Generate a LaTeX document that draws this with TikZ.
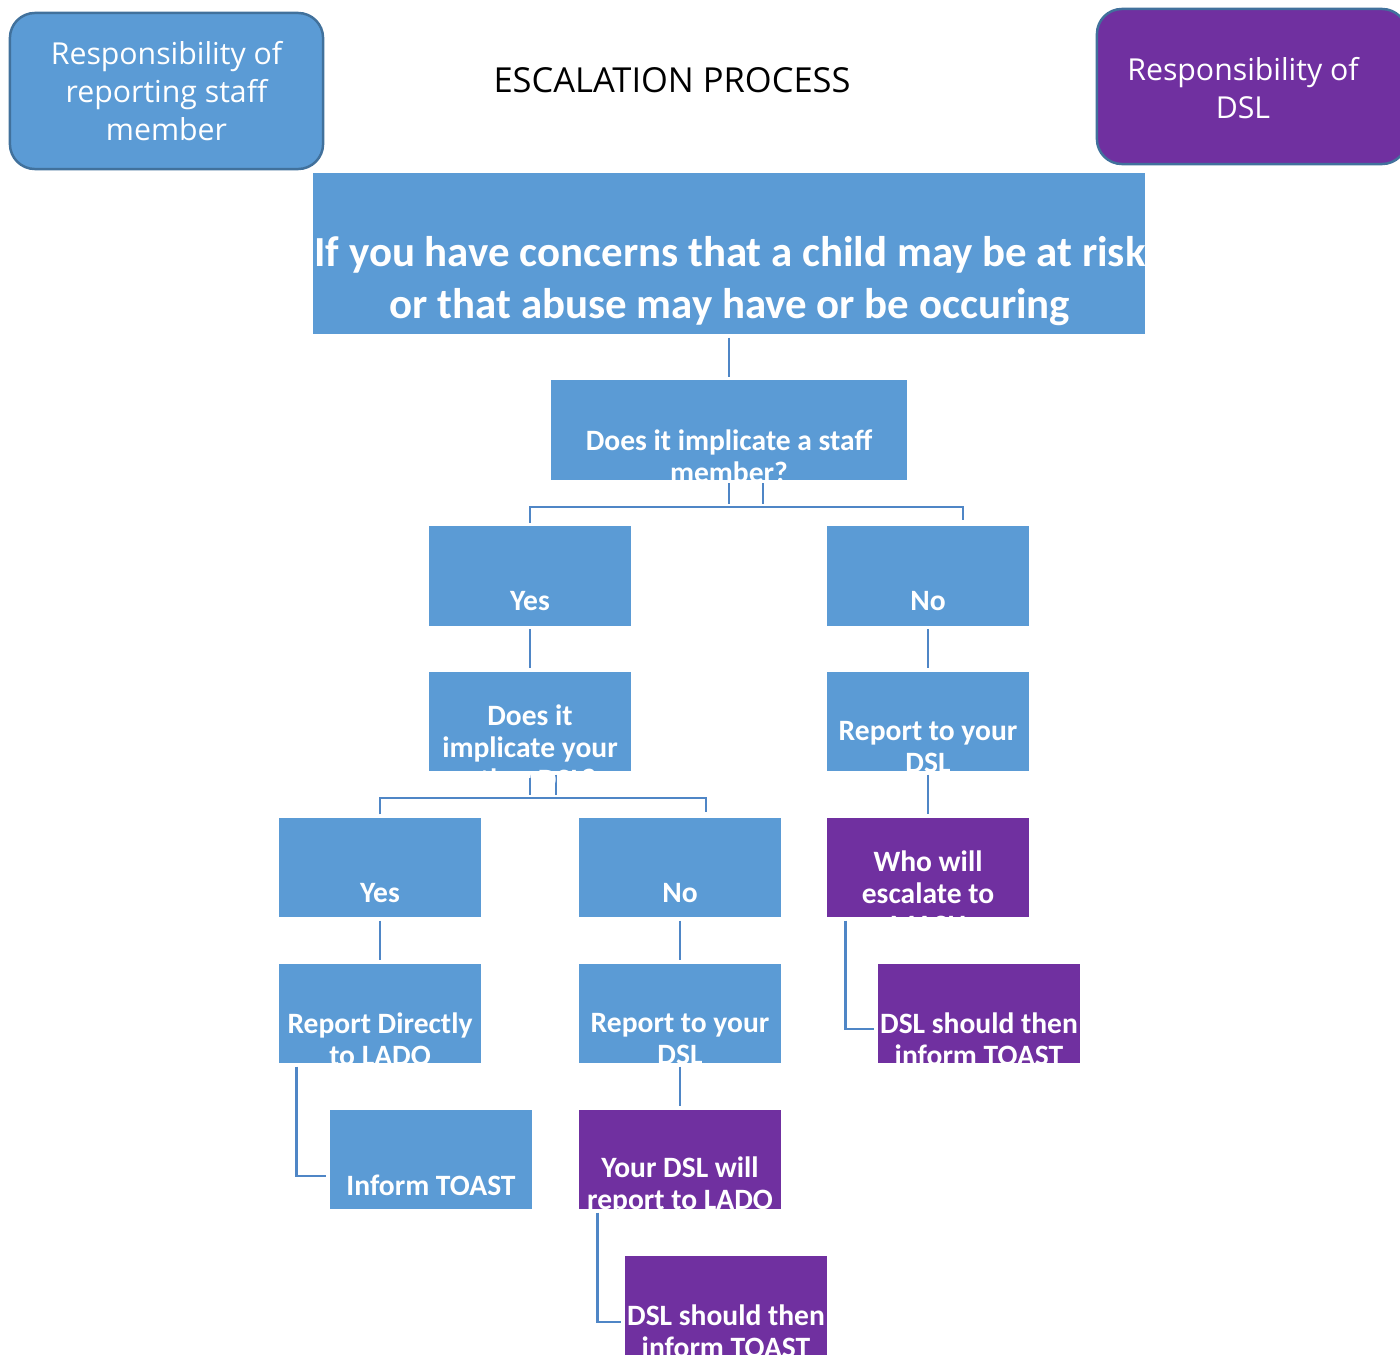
\documentclass[tikz,border=0pt]{standalone}
\usepackage{fontspec}
\setmainfont{Carlito}
\newfontfamily\headfont{Open Sans}
\definecolor{boxblue}{HTML}{5B9BD5}
\definecolor{dslpurple}{HTML}{7030A0}
\definecolor{keyedge}{HTML}{41719C}
\definecolor{linkblue}{HTML}{4F86C6}
\tikzset{
  box/.style={rectangle, inner sep=0pt, minimum width=2.02cm, minimum height=0.99cm},
  bluebox/.style={box, fill=boxblue},
  dslbox/.style={box, fill=dslpurple},
  boxtext/.style={text=white, font=\fontsize{8.4}{9.1}\selectfont\bfseries, align=center, inner sep=0pt},
  keybox/.style={rectangle, rounded corners=0.25cm, draw=keyedge, line width=0.7pt, minimum width=3.13cm, minimum height=1.56cm},
  keytext/.style={text=white, font=\headfont\fontsize{8.6}{10.8}\selectfont, align=center, inner sep=0pt},
  link/.style={draw=linkblue, line width=0.8pt, shorten <=0.8pt, shorten >=0.8pt}
}
\begin{document}
\begin{tikzpicture}[x=0.01cm, y=-0.01cm]
\useasboundingbox (0,0) rectangle (1400,1355);
\node[keybox, fill=boxblue] (keystaff) at (166.5,91) {};
\node[keybox, fill=dslpurple, minimum width=3.1cm, minimum height=1.55cm] (keydsl) at (1252,86.5) {};
\node[font=\headfont\fontsize{9.8}{11}\selectfont, inner sep=0pt] (title) at (672,80) {ESCALATION PROCESS};
\node[bluebox, minimum width=8.32cm, minimum height=1.61cm] (concern) at (729,253.5) {};
\node[bluebox, minimum width=3.56cm] (q1) at (729,430) {};
\node[bluebox] (yes1) at (530,576) {};
\node[bluebox] (no1) at (928,576) {};
\node[bluebox] (q2) at (530,721.5) {};
\node[bluebox] (r1) at (928,721.5) {};
\node[dslbox] (w1) at (928,867.5) {};
\node[bluebox] (yes2) at (380,867.5) {};
\node[bluebox] (no2) at (680,867.5) {};
\node[bluebox] (rd) at (380,1013.5) {};
\node[bluebox] (r2) at (680,1013.5) {};
\node[dslbox] (dt1) at (979,1013.5) {};
\node[bluebox] (it) at (431,1159.5) {};
\node[dslbox] (yd) at (680,1159.5) {};
\node[dslbox] (dt2) at (726,1305.5) {};
\coordinate (hub1) at (729,507);
\coordinate (hub1r) at (763,507);
\coordinate (nodrop1) at (963,523);
\coordinate (hub2) at (530,798);
\coordinate (hub2r) at (556,798);
\coordinate (nodrop2) at (706,815);
\draw[link] (concern.south) -- (q1.north);
\draw[link] (q1.south) -- (hub1);
\draw[link] (q1.south -| hub1r) -- (hub1r);
\draw[link] (yes1.north) |- (nodrop1 |- hub1) -- (nodrop1);
\draw[link] (yes1.south) -- (q2.north);
\draw[link] (no1.south) -- (r1.north);
\draw[link] (r1.south) -- (w1.north);
\draw[link] (q2.south) -- (hub2);
\draw[link] (q2.south -| hub2r) -- (hub2r);
\draw[link] (yes2.north) |- (nodrop2 |- hub2) -- (nodrop2);
\draw[link] (yes2.south) -- (rd.north);
\draw[link] (no2.south) -- (r2.north);
\draw[link] (r2.south) -- (yd.north);
\draw[link] ([xshift=0.18cm]rd.south west) |- ([yshift=-0.165cm]it.west);
\draw[link] ([xshift=0.19cm]yd.south west) |- ([yshift=-0.165cm]dt2.west);
\draw[link] ([xshift=0.19cm]w1.south west) |- ([yshift=-0.155cm]dt1.west);
\node[keytext] (keystafft) at (166.5,91) {Responsibility of\\reporting staff\\member};
\node[keytext] (keydslt) at (1243,88) {Responsibility of\\DSL};
\node[boxtext, font=\fontsize{12.2}{14.8}\selectfont\bfseries] (concernt) at (730,281) {If you have concerns that a child may be at risk\\or that abuse may have or be occuring};
\node[boxtext] (q1t) at (729,456) {Does it implicate a staff\\member?};
\node[boxtext] (yes1t) at (530,601) {Yes};
\node[boxtext] (no1t) at (928,601) {No};
\node[boxtext] (q2t) at (530,747) {Does it\\implicate your\\other DSL?};
\node[boxtext] (r1t) at (928,747) {Report to your\\DSL};
\node[boxtext] (w1t) at (928,893) {Who will\\escalate to\\MASH};
\node[boxtext] (yes2t) at (380,893) {Yes};
\node[boxtext] (no2t) at (680,893) {No};
\node[boxtext] (rdt) at (380,1039) {Report Directly\\to LADO};
\node[boxtext] (r2t) at (680,1039) {Report to your\\DSL};
\node[boxtext] (dt1t) at (979,1039) {DSL should then\\inform TOAST};
\node[boxtext] (itt) at (431,1185) {Inform TOAST};
\node[boxtext] (ydt) at (680,1185) {Your DSL will\\report to LADO};
\node[boxtext] (dt2t) at (726,1331) {DSL should then\\inform TOAST};
\end{tikzpicture}
\end{document}
